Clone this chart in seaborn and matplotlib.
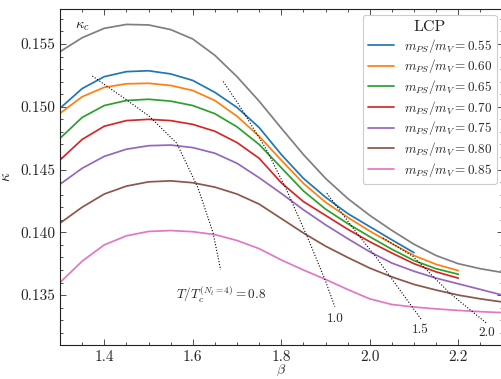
import numpy as np
import pandas as pd
import matplotlib
matplotlib.use("Agg")
import matplotlib.pyplot as plt
import seaborn as sns
from matplotlib.ticker import MultipleLocator

# ---------------- data ----------------
beta_grid = [1.30, 1.35, 1.40, 1.45, 1.50, 1.55, 1.60, 1.65, 1.70, 1.75, 1.80,
             1.85, 1.90, 1.95, 2.00, 2.05, 2.10, 2.15, 2.20, 2.25, 2.30]

kappa_c = [0.15439, 0.15550, 0.15625, 0.15656, 0.15652, 0.15615, 0.15540, 0.15410,
           0.15240, 0.15045, 0.14830, 0.14620, 0.14430, 0.14270, 0.14135, 0.14015,
           0.13905, 0.13815, 0.13750, 0.13710, 0.13680]

m055 = [0.14988, 0.15145, 0.15240, 0.15280, 0.15287, 0.15262, 0.15210, 0.15115,
        0.14995, 0.14835, 0.14620, 0.14430, 0.14280, 0.14150, 0.14045, 0.13940,
        0.13838]
m060 = [0.14948, 0.15080, 0.15155, 0.15183, 0.15187, 0.15170, 0.15130, 0.15050,
        0.14925, 0.14765, 0.14575, 0.14390, 0.14240, 0.14120, 0.14010, 0.13910,
        0.13815, 0.13745, 0.13695]
m065 = [0.14749, 0.14915, 0.15010, 0.15050, 0.15060, 0.15045, 0.15010, 0.14945,
        0.14840, 0.14700, 0.14515, 0.14330, 0.14185, 0.14070, 0.13965, 0.13865,
        0.13775, 0.13710, 0.13666]
m070 = [0.14576, 0.14740, 0.14845, 0.14890, 0.14900, 0.14890, 0.14860, 0.14805,
        0.14715, 0.14590, 0.14395, 0.14245, 0.14135, 0.14025, 0.13925, 0.13835,
        0.13750, 0.13685, 0.13635]
m075 = [0.14383, 0.14510, 0.14605, 0.14662, 0.14690, 0.14695, 0.14675, 0.14630,
        0.14550, 0.14435, 0.14310, 0.14180, 0.14060, 0.13950, 0.13845, 0.13755,
        0.13690, 0.13635, 0.13590, 0.13545, 0.13500]
m080 = [0.14073, 0.14200, 0.14305, 0.14368, 0.14402, 0.14410, 0.14395, 0.14360,
        0.14305, 0.14225, 0.14110, 0.13995, 0.13890, 0.13800, 0.13715, 0.13645,
        0.13585, 0.13540, 0.13500, 0.13470, 0.13445]
m085 = [0.13600, 0.13770, 0.13900, 0.13972, 0.14007, 0.14014, 0.14005, 0.13982,
        0.13935, 0.13870, 0.13780, 0.13700, 0.13625, 0.13545, 0.13470, 0.13425,
        0.13405, 0.13390, 0.13378, 0.13368, 0.13360]

ratios = ["0.55", "0.60", "0.65", "0.70", "0.75", "0.80", "0.85"]
lcp_series = [m055, m060, m065, m070, m075, m080, m085]
lcp_colors = ["#1f77b4", "#ff7f0e", "#2ca02c", "#d62728", "#9467bd", "#8c564b", "#e377c2"]

# constant-temperature contours T/Tc
T08_beta = [1.373, 1.451, 1.503, 1.564, 1.612, 1.646, 1.663]
T08_kappa = [0.15245, 0.15054, 0.14921, 0.14709, 0.14353, 0.13995, 0.13701]
T10_beta = [1.669, 1.707, 1.767, 1.812, 1.860, 1.899, 1.921]
T10_kappa = [0.15201, 0.15001, 0.14656, 0.14338, 0.13955, 0.13621, 0.13408]
T15_beta = [1.903, 1.971, 2.016, 2.068, 2.117]
T15_kappa = [0.14311, 0.13993, 0.13794, 0.13541, 0.13303]
T20_beta = [2.030, 2.098, 2.181, 2.264]
T20_kappa = [0.13955, 0.13807, 0.13515, 0.13276]

# ---------------- style ----------------
sns.set_style("ticks")
plt.rcParams["font.family"] = ["cmr10", "DejaVu Serif"]
plt.rcParams["mathtext.fontset"] = "cm"
plt.rcParams["axes.formatter.use_mathtext"] = True
plt.rcParams["axes.unicode_minus"] = False
plt.rcParams["lines.solid_joinstyle"] = "round"

fig = plt.figure(figsize=(5.01, 3.79), dpi=100)
ax = fig.add_axes([60 / 501, 1 - 345.3 / 379, 442.5 / 501, (345.3 - 9) / 379])

rows = []
for r, vals in zip(ratios, lcp_series):
    for b, k in zip(beta_grid, vals):
        rows.append({"series": r, "beta": b, "kappa": k})
df = pd.DataFrame(rows)

for r, c in zip(ratios, lcp_colors):
    sub = df[df["series"] == r]
    sns.lineplot(data=sub, x="beta", y="kappa", color=c, lw=1.25, ax=ax,
                 label=r"$m_{PS}/m_V = %s$" % r, errorbar=None)

sns.lineplot(x=beta_grid, y=kappa_c, color="#7f7f7f", lw=1.25, ax=ax,
             legend=False, errorbar=None)

for bx, ky in [(T08_beta, T08_kappa), (T10_beta, T10_kappa),
               (T15_beta, T15_kappa), (T20_beta, T20_kappa)]:
    sns.lineplot(x=bx, y=ky, color="black", lw=0.8, linestyle=(0, (1, 1.6)),
                 ax=ax, legend=False, errorbar=None, sort=False)

# annotations
ax.text(1.351, 0.15643, r"$\kappa_c$", fontsize=10.5, ha="center", va="center")
ax.text(1.562, 0.13502, r"$T/T_c^{(N_t=4)} = 0.8$", fontsize=9.5, ha="left", va="center")
ax.text(1.921, 0.13308, "1.0", fontsize=9.5, ha="center", va="center")
ax.text(2.115, 0.13223, "1.5", fontsize=9.5, ha="center", va="center")
ax.text(2.264, 0.13197, "2.0", fontsize=9.5, ha="center", va="center")

ax.set_xlim(1.3, 2.3)
ax.set_ylim(0.131, 0.15779)
ax.xaxis.set_minor_locator(MultipleLocator(0.05))
ax.yaxis.set_minor_locator(MultipleLocator(0.001))
ax.set_xticks([1.4, 1.6, 1.8, 2.0, 2.2])
ax.set_xticklabels(["1.4", "1.6", "1.8", "2.0", "2.2"])
ax.set_yticks([0.135, 0.140, 0.145, 0.150, 0.155])
ax.set_yticklabels(["0.135", "0.140", "0.145", "0.150", "0.155"])
ax.tick_params(which="both", direction="in", top=True, right=True, width=0.6,
               labelsize=11, color="#333333")
ax.tick_params(which="major", length=4, pad=3.5)
ax.tick_params(which="minor", length=2.2)
for s in ax.spines.values():
    s.set_linewidth(0.8)
    s.set_color("#222222")

ax.set_xlabel(r"$\beta$", fontsize=10, labelpad=-1)
ax.set_ylabel(r"$\kappa$", fontsize=11, labelpad=5)

leg = ax.legend(title="LCP", loc="upper right", bbox_to_anchor=(0.9876, 0.982),
                borderaxespad=0, fontsize=9.5, title_fontsize=11.5, frameon=True,
                fancybox=True, framealpha=1, edgecolor="#cccccc",
                handlelength=2.0, handletextpad=0.7, labelspacing=0.2,
                borderpad=0.4)
leg.get_frame().set_linewidth(0.8)

fig.savefig("out.png", dpi=100)
